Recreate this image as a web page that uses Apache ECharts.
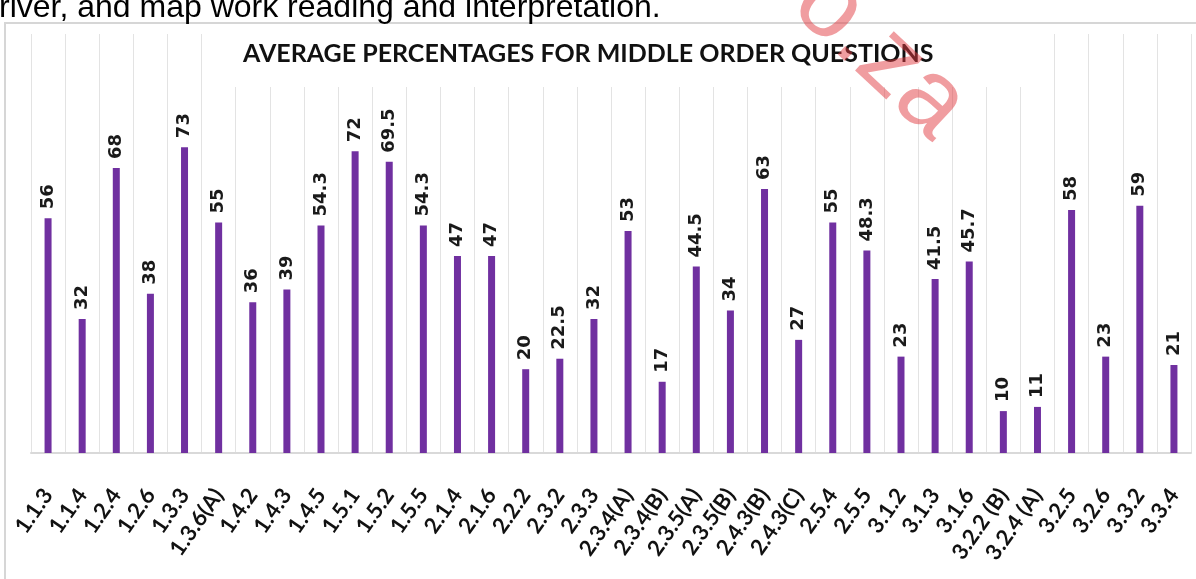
<!DOCTYPE html>
<html>
<head>
<meta charset="utf-8">
<script src="https://cdn.jsdelivr.net/npm/echarts@6/dist/echarts.min.js"></script>
<style>
  html, body { margin: 0; padding: 0; background: #fff; }
  #box { width: 1196px; height: 579px; }
</style>
</head>
<body>
<div id="box"></div>
<script>
// question numbers along the bottom
var questions = ['1.1.3', '1.1.4', '1.2.4', '1.2.6', '1.3.3', '1.3.6(A)', '1.4.2', '1.4.3', '1.4.5', '1.5.1',
  '1.5.2', '1.5.5', '2.1.4', '2.1.6', '2.2.2', '2.3.2', '2.3.3', '2.3.4(A)', '2.3.4(B)', '2.3.5(A)',
  '2.3.5(B)', '2.4.3(B)', '2.4.3(C)', '2.5.4', '2.5.5', '3.1.2', '3.1.3', '3.1.6', '3.2.2 (B)', '3.2.4 (A)',
  '3.2.5', '3.2.6', '3.3.2', '3.3.4']
// average % per question
var averages = [56, 32, 68, 38, 73, 55, 36, 39, 54.3, 72,
  69.5, 54.3, 47, 47, 20, 22.5, 32, 53, 17, 44.5,
  34, 63, 27, 55, 48.3, 23, 41.5, 45.7, 10, 11,
  58, 23, 59, 21]

var chart = echarts.init(document.getElementById('box'))
var option = {
  backgroundColor: '#fff',
  animation: false,
  title: {
    text: 'AVERAGE PERCENTAGES FOR MIDDLE ORDER QUESTIONS',
    left: 215,
    top: 31,
    padding: [10, 100, 21, 28],
    backgroundColor: '#fff',
    textStyle: {
      fontFamily: 'Lato',
      fontWeight: 'bold',
      fontSize: 25,
      color: '#111'
    }
  },
  grid: {
    left: 31,
    right: 5,
    top: 34,
    bottom: 126
  },
  xAxis: {
    type: 'category',
    data: questions,
    axisLine: { show: true, lineStyle: { color: '#d9d9d9', width: 2 } },
    axisTick: { show: false },
    splitLine: { show: true, interval: 0, lineStyle: { color: '#e3e3e3', width: 1 } },
    axisLabel: {
      interval: 0,
      rotate: 55,
      margin: 38,
      fontFamily: 'Lato',
      fontWeight: 'bold',
      fontSize: 22,
      color: '#111'
    }
  },
  yAxis: {
    type: 'value',
    min: 0,
    max: 100,
    show: false
  },
  series: [{
    type: 'bar',
    data: averages,
    barWidth: 7,
    itemStyle: { color: '#7030A0' },
    label: {
      show: true,
      position: 'top',
      rotate: 90,
      align: 'left',
      verticalAlign: 'middle',
      distance: 9,
      fontFamily: 'DejaVu Sans',
      fontWeight: 'bold',
      fontSize: 18,
      color: '#1a1a1a'
    }
  }],
  graphic: [
    {
      // chart frame
      type: 'rect',
      z: -1,
      shape: { x: 5, y: 23, width: 1220, height: 620 },
      style: { fill: 'none', stroke: '#d6d6d6', lineWidth: 2 }
    },
    {
      // end of the sentence above the figure
      type: 'text',
      x: -1,
      y: 24,
      style: {
        text: 'river, and map work reading and interpretation.',
        fontFamily: 'Liberation Sans',
        fontSize: 32,
        fill: '#000',
        textAlign: 'left',
        textVerticalAlign: 'bottom'
      }
    },
    {
      // watermark
      type: 'text',
      x: 770,
      y: -48,
      rotation: -0.75,
      z: 100,
      style: {
        text: 'co.za',
        fontFamily: 'Liberation Sans',
        fontSize: 104,
        fill: 'rgba(226, 60, 66, 0.5)',
        textAlign: 'left',
        textVerticalAlign: 'middle'
      }
    }
  ]
}
chart.setOption(option)
</script>
</body>
</html>
